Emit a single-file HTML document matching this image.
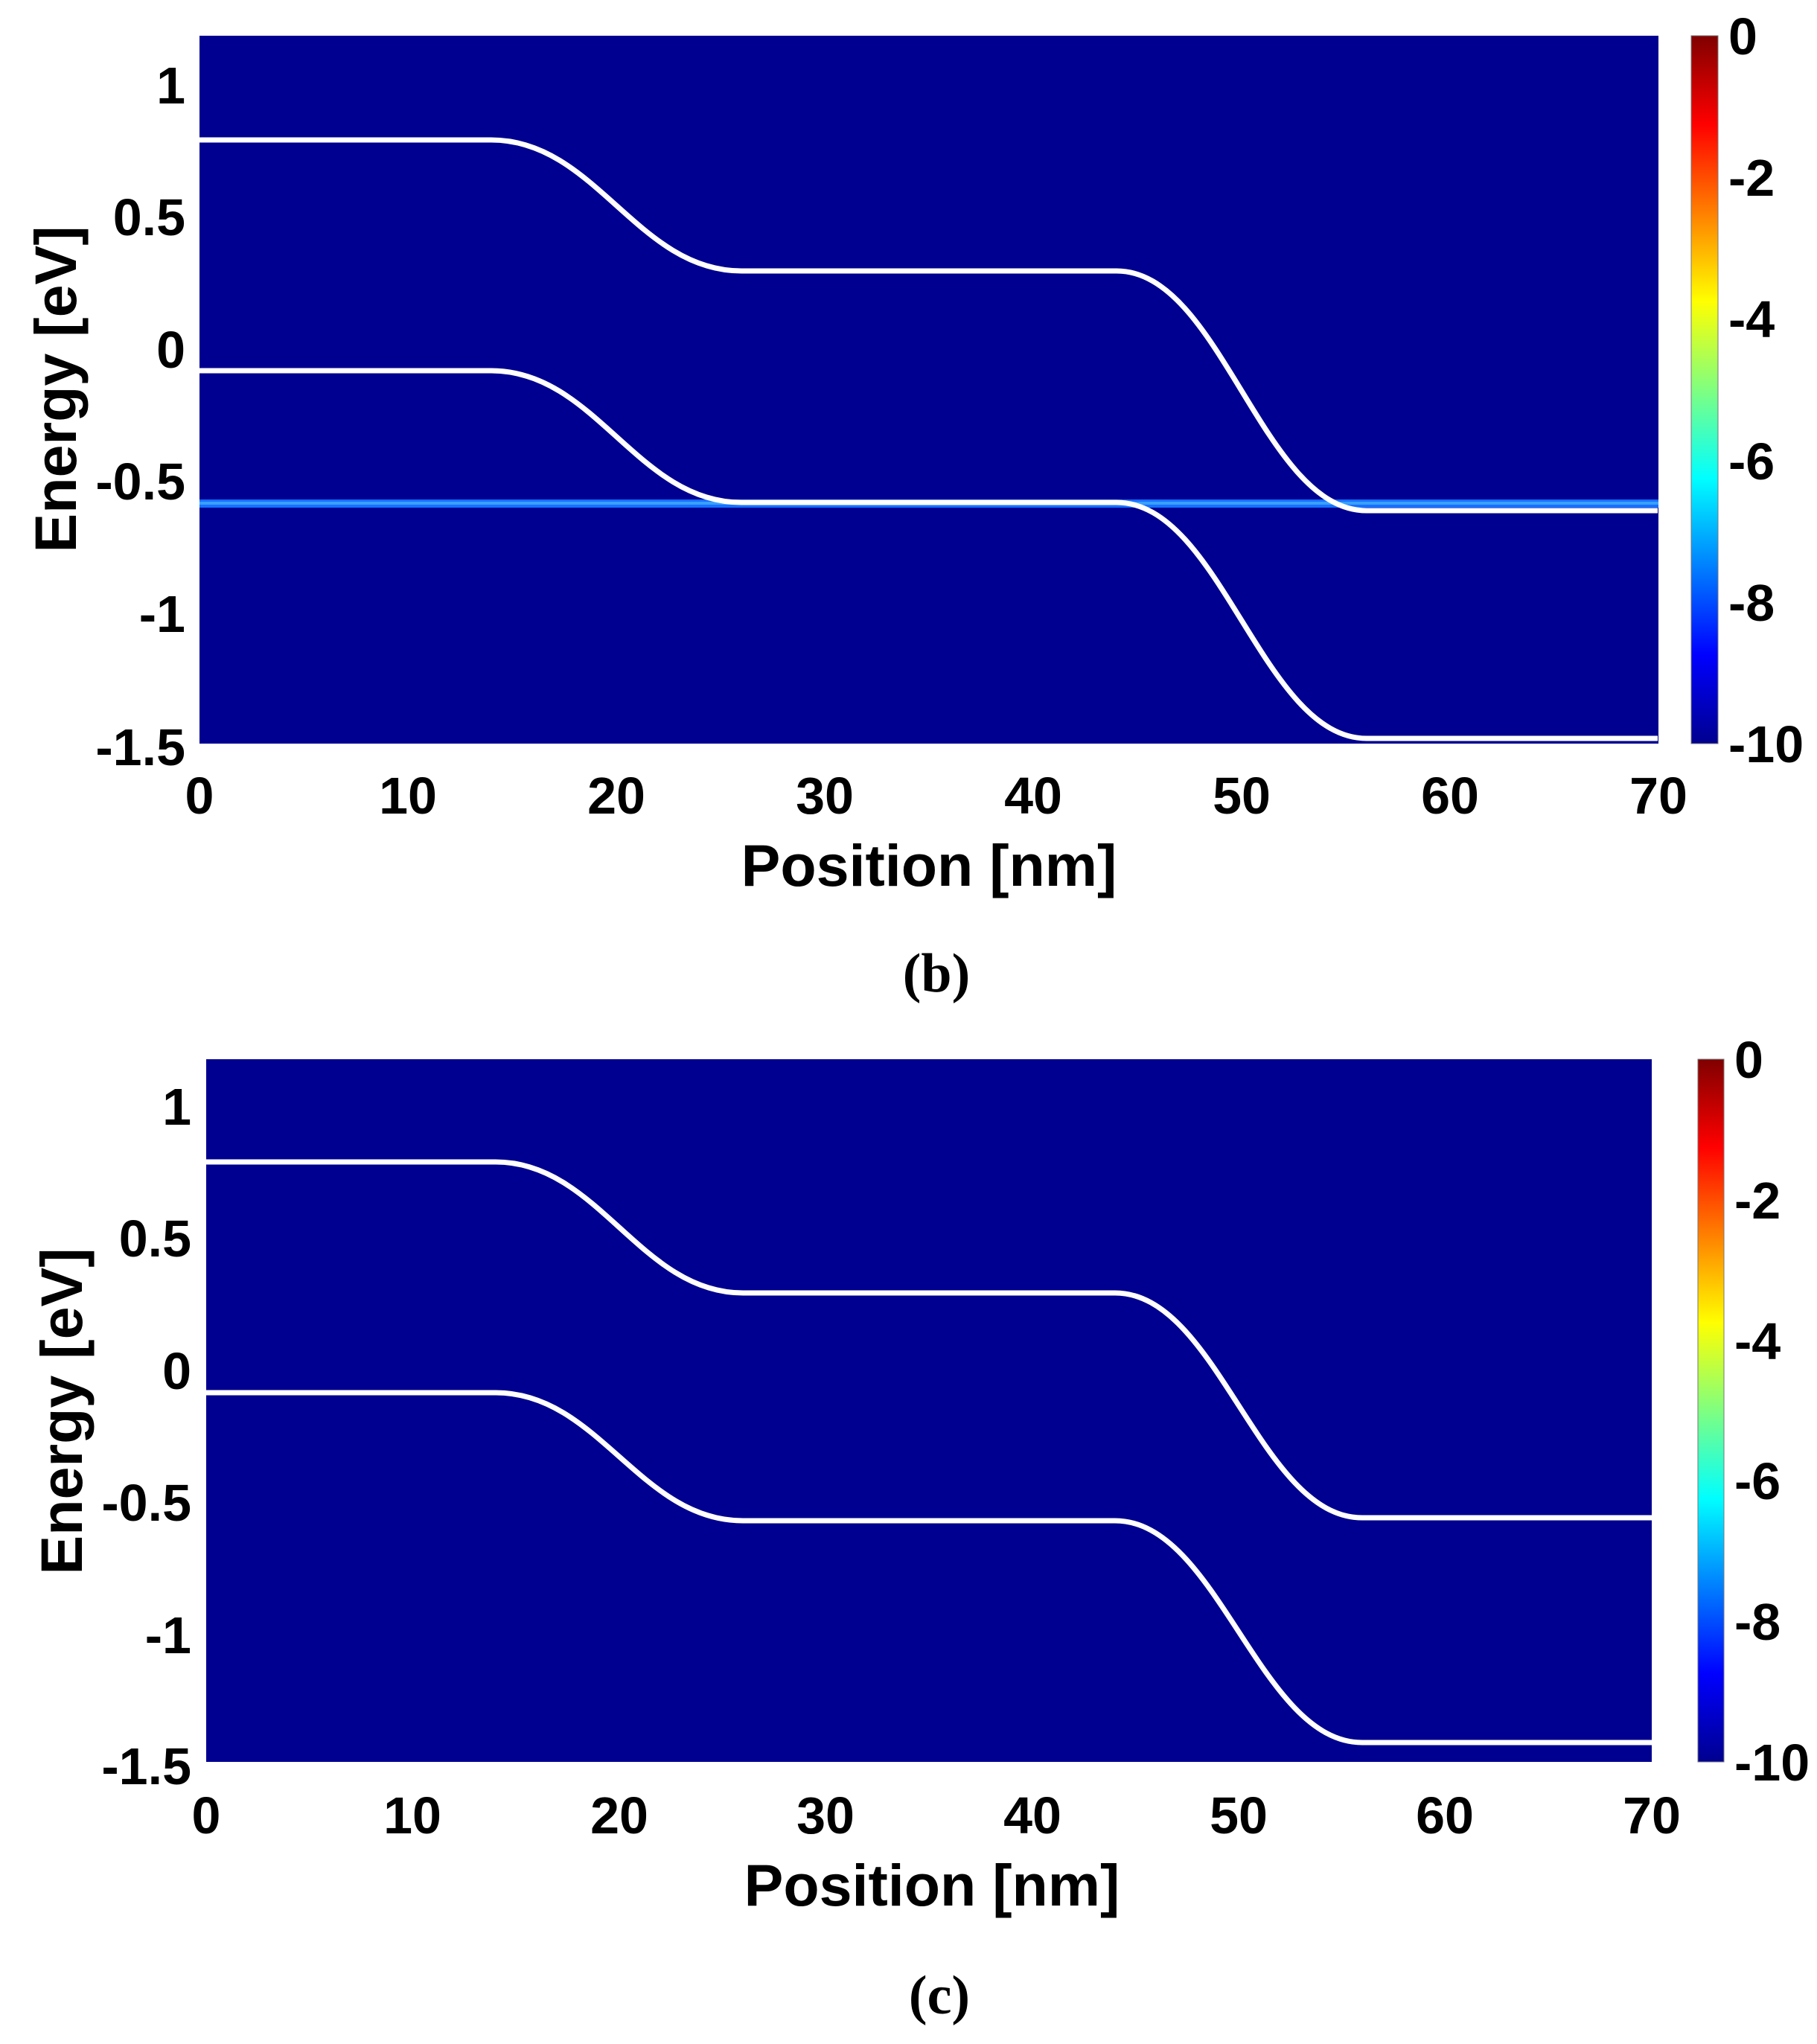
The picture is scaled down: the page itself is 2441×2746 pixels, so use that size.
<!DOCTYPE html>
<html><head><meta charset="utf-8"><style>
html,body{margin:0;padding:0;background:#fff}
svg{display:block}
.t{font-family:"Liberation Sans",Arial,sans-serif;font-weight:bold;font-size:70px;fill:#000}
.l{font-family:"Liberation Sans",Arial,sans-serif;font-weight:bold;font-size:79px;fill:#000}
.c{font-family:"Liberation Serif","Times New Roman",serif;font-weight:bold;font-size:74px;fill:#000}
</style></head><body>
<svg width="2441" height="2746" viewBox="0 0 2441 2746" xmlns="http://www.w3.org/2000/svg">
<defs>
<linearGradient id="jet" x1="0" y1="1" x2="0" y2="0">
<stop offset="0" stop-color="#00008f"/>
<stop offset="0.125" stop-color="#0000ff"/>
<stop offset="0.375" stop-color="#00ffff"/>
<stop offset="0.625" stop-color="#ffff00"/>
<stop offset="0.875" stop-color="#ff0000"/>
<stop offset="1" stop-color="#800000"/>
</linearGradient>
</defs>
<!-- Panel b -->
<rect x="268" y="48" width="1960" height="951" fill="#000090"/>
<rect x="268" y="671" width="1960" height="11" fill="#1670ff"/>
<rect x="268" y="674" width="1960" height="4" fill="#3aa0ff"/>
<path d="M268,188 L660,188 C800,188 856,364 996,364 L1500,364 C1640,364 1696,686 1836,686 L2227,686" fill="none" stroke="#fff" stroke-width="7"/>
<path d="M268,498 L660,498 C800,498 856,675 996,675 L1500,675 C1640,675 1696,992 1836,992 L2227,992" fill="none" stroke="#fff" stroke-width="7"/>
<rect x="2272" y="48" width="36" height="951" fill="url(#jet)" stroke="#777" stroke-width="1"/>
<g class="t" text-anchor="end">
<text x="249" y="139">1</text>
<text x="249" y="316">0.5</text>
<text x="249" y="494">0</text>
<text x="249" y="671">-0.5</text>
<text x="249" y="849">-1</text>
<text x="249" y="1028">-1.5</text>
</g>
<g class="t" text-anchor="middle">
<text x="268" y="1093">0</text><text x="548" y="1093">10</text><text x="828" y="1093">20</text><text x="1108" y="1093">30</text><text x="1388" y="1093">40</text><text x="1668" y="1093">50</text><text x="1948" y="1093">60</text><text x="2228" y="1093">70</text>
</g>
<g class="t">
<text x="2322" y="73">0</text><text x="2322" y="263">-2</text><text x="2322" y="453">-4</text><text x="2322" y="644">-6</text><text x="2322" y="834">-8</text><text x="2322" y="1024">-10</text>
</g>
<text class="l" x="1248" y="1190" text-anchor="middle">Position [nm]</text>
<text class="l" transform="translate(102,523) rotate(-90)" text-anchor="middle">Energy [eV]</text>
<text class="c" x="1258" y="1332" text-anchor="middle">(b)</text>
<!-- Panel c -->
<rect x="277" y="1423" width="1942" height="944" fill="#000090"/>
<path d="M277,1561 L666,1561 C804,1561 860,1737 998,1737 L1498,1737 C1636,1737 1692,2039 1830,2039 L2219,2039" fill="none" stroke="#fff" stroke-width="7"/>
<path d="M277,1871 L666,1871 C804,1871 860,2043 998,2043 L1498,2043 C1636,2043 1692,2341 1830,2341 L2219,2341" fill="none" stroke="#fff" stroke-width="7"/>
<rect x="2281" y="1423" width="35" height="944" fill="url(#jet)" stroke="#777" stroke-width="1"/>
<g class="t" text-anchor="end">
<text x="257" y="1511">1</text>
<text x="257" y="1688">0.5</text>
<text x="257" y="1866">0</text>
<text x="257" y="2043">-0.5</text>
<text x="257" y="2221">-1</text>
<text x="257" y="2397">-1.5</text>
</g>
<g class="t" text-anchor="middle">
<text x="277" y="2463">0</text><text x="554" y="2463">10</text><text x="832" y="2463">20</text><text x="1109" y="2463">30</text><text x="1387" y="2463">40</text><text x="1664" y="2463">50</text><text x="1941" y="2463">60</text><text x="2219" y="2463">70</text>
</g>
<g class="t">
<text x="2330" y="1448">0</text><text x="2330" y="1637">-2</text><text x="2330" y="1826">-4</text><text x="2330" y="2014">-6</text><text x="2330" y="2203">-8</text><text x="2330" y="2392">-10</text>
</g>
<text class="l" x="1252" y="2560" text-anchor="middle">Position [nm]</text>
<text class="l" transform="translate(110,1896) rotate(-90)" text-anchor="middle">Energy [eV]</text>
<text class="c" x="1262" y="2705" text-anchor="middle">(c)</text>
</svg>
</body></html>
